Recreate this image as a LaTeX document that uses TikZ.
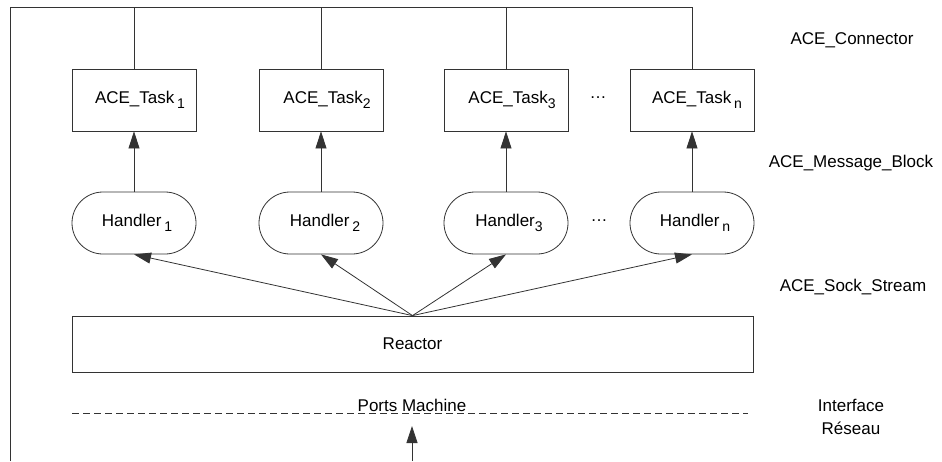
\documentclass[tikz,border=0pt]{standalone}
\usepackage{fontspec}
\setmainfont{Liberation Sans}
\usetikzlibrary{arrows.meta}
% lowered index digit used in the task and handler names
\newcommand{\lowidx}[1]{\raisebox{-5pt}{\fontsize{14}{14}\selectfont #1}}
\begin{document}
\begin{tikzpicture}[x=1pt, y=-1pt,
  font=\fontsize{17}{20}\selectfont,
  line/.style={draw=black!80, line width=0.8pt},
  taskbox/.style={line, rectangle, minimum width=124pt, minimum height=62pt, inner sep=0pt},
  handlerbox/.style={line, rectangle, rounded corners=31pt, minimum width=124pt, minimum height=62pt, inner sep=0pt},
  reactorbox/.style={line, rectangle, minimum width=681pt, minimum height=56pt, inner sep=0pt},
  arr/.style={line, -{Triangle[length=17pt, width=11pt]}},
  layer/.style={align=center, font=\fontsize{17}{23}\selectfont}]
\useasboundingbox (0,0) rectangle (942,461);

% tasks
\node[taskbox] (t1) at (134,100) {\hspace*{12pt}ACE\_Task\,\lowidx{1}};
\node[taskbox] (t2) at (321,100) {\hspace*{12pt}ACE\_Task\lowidx{2}};
\node[taskbox] (t3) at (506,100) {\hspace*{12pt}ACE\_Task\lowidx{3}};
\node[taskbox] (tn) at (692,100) {\hspace*{10pt}ACE\_Task\,\lowidx{n}};
\node (tdots) at (598,98) {…};

% handlers
\node[handlerbox] (h1) at (134,223) {\hspace*{6pt}Handler\,\lowidx{1}};
\node[handlerbox] (h2) at (321,223) {\hspace*{8pt}Handler\,\lowidx{2}};
\node[handlerbox] (h3) at (506,223) {\hspace*{6pt}Handler\lowidx{3}};
\node[handlerbox] (hn) at (692,223) {\hspace*{6pt}Handler\,\lowidx{n}};
\node (hdots) at (599,221) {…};

% reactor
\node[reactorbox] (reactor) at (412.5,344) {Reactor};

% connector frame
\coordinate (ftop) at (10,7);
\coordinate (fbot) at (10,461);
\draw[line] (fbot) -- (ftop) -- (tn.north |- ftop);
\foreach \t in {t1,t2,t3} \draw[line] (\t.north) -- (\t.north |- ftop);
\draw[line] (tn.north) -- (tn.north |- ftop);

% handlers feed tasks
\foreach \k in {1,2,3,n} \draw[arr] (h\k.north) -- (t\k.south);

% reactor dispatches to handlers
\foreach \k in {1,2,3,n} \draw[arr] (reactor.north) -- (h\k.south);

% network interface
\coordinate (dl) at (72,413);
\coordinate (dr) at (748,413);
\draw[line, dash pattern=on 7pt off 4pt] (dl) -- (dr);
\node[anchor=base, inner sep=0pt] (ports) at (412,411) {Ports Machine};
\coordinate (netin) at (412,461);
\coordinate (portin) at (412,426);
\draw[arr] (netin) -- (portin);

% layer labels
\node[layer] (lconn) at (852,40) {ACE\_Connector};
\node[layer] (lmsg) at (851,163) {ACE\_Message\_Block};
\node[layer] (lsock) at (853,287) {ACE\_Sock\_Stream};
\node[layer] (lnet) at (851,417) {Interface\\Réseau};
\end{tikzpicture}
\end{document}
